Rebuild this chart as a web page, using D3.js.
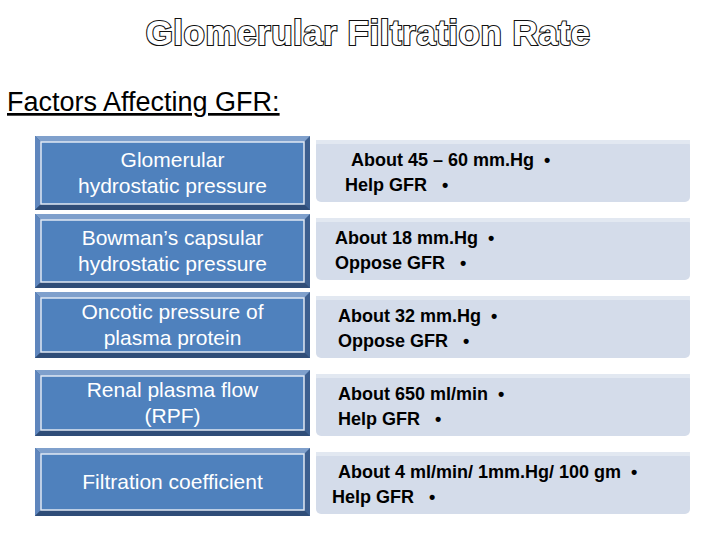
<!DOCTYPE html>
<html><head><meta charset="utf-8">
<script src="https://cdn.jsdelivr.net/npm/d3@7"></script>
<style>body{margin:0;background:#fff}</style>
</head><body>
<svg id="slide" width="720" height="540"></svg>
<script>
const factors = [
  ['Glomerular', 'hydrostatic pressure'],
  ['Bowman’s capsular', 'hydrostatic pressure'],
  ['Oncotic pressure of', 'plasma protein'],
  ['Renal plasma flow', '(RPF)'],
  ['Filtration coefficient']
];
const values = ['About 45 – 60 mm.Hg', 'About 18 mm.Hg', 'About 32 mm.Hg', 'About 650 ml/min', 'About 4 ml/min/ 1mm.Hg/ 100 gm'];
const effects = ['Help GFR', 'Oppose GFR', 'Oppose GFR', 'Help GFR', 'Help GFR'];
const leftTops = [136, 214, 292, 370, 448];
const leftHeights = [74, 74, 66, 66, 68];
const rightTops = [140, 218, 296, 374, 452];
const textIndent = [351, 335, 338, 338, 338];
const effectIndent = [345, 335, 338, 338, 332];

const svg = d3.select('#slide');
const font = '"Liberation Sans", Arial, sans-serif';

svg.append('text').attr('x', 368).attr('y', 45).attr('text-anchor', 'middle')
  .attr('font-family', font).attr('font-weight', 'bold').attr('font-size', 35)
  .attr('fill', '#fff').attr('stroke', '#111').attr('stroke-width', 2.2)
  .attr('paint-order', 'stroke').attr('letter-spacing', 0.5)
  .text('Glomerular Filtration Rate');

svg.append('text').attr('x', 7).attr('y', 111)
  .attr('font-family', font).attr('font-size', 27).attr('fill', '#000')
  .attr('text-decoration', 'underline')
  .text('Factors Affecting GFR:');

const lx = 35, lw = 275, bev = 6;
factors.forEach((f, i) => {
  const y = leftTops[i], h = leftHeights[i];
  const g = svg.append('g');
  g.append('rect').attr('x', lx).attr('y', y).attr('width', lw).attr('height', h).attr('fill', '#3d5f8f');
  g.append('polygon').attr('points', [[lx, y], [lx + lw, y], [lx + lw - bev, y + bev], [lx + bev, y + bev]].join(' ')).attr('fill', '#7fa0cc');
  g.append('polygon').attr('points', [[lx, y], [lx + bev, y + bev], [lx + bev, y + h - bev], [lx, y + h]].join(' ')).attr('fill', '#5f86bd');
  g.append('polygon').attr('points', [[lx, y + h], [lx + bev, y + h - bev], [lx + lw - bev, y + h - bev], [lx + lw, y + h]].join(' ')).attr('fill', '#2f4d78');
  g.append('rect').attr('x', lx + bev).attr('y', y + bev).attr('width', lw - 2 * bev).attr('height', h - 2 * bev)
    .attr('fill', '#4f81bd').attr('stroke', '#dfe8f3').attr('stroke-width', 1.5);
  const cy = y + h / 2;
  const t = g.append('text').attr('x', lx + lw / 2).attr('text-anchor', 'middle')
    .attr('font-family', font).attr('font-size', 21).attr('fill', '#fff');
  f.forEach((line, j) => {
    t.append('tspan').attr('x', lx + lw / 2)
      .attr('y', cy + 7 + (j - (f.length - 1) / 2) * 26).text(line);
  });

  const ry = rightTops[i], rx = 316, rw = 374, rh = 62;
  svg.append('rect').attr('x', rx).attr('y', ry).attr('width', rw).attr('height', rh).attr('rx', 5)
    .attr('fill', '#d4dcea');
  svg.append('rect').attr('x', rx).attr('y', ry).attr('width', rw).attr('height', 4).attr('fill', '#e2e8f1');
  const rt = svg.append('text').attr('font-family', font).attr('font-size', 18)
    .attr('font-weight', 'bold').attr('fill', '#000').attr('xml:space', 'preserve');
  rt.append('tspan').attr('x', textIndent[i]).attr('y', ry + 26).text(values[i] + '\u00a0 •');
  rt.append('tspan').attr('x', effectIndent[i]).attr('y', ry + 51).text(effects[i] + '\u00a0\u00a0 •');
});
</script>
</body></html>
